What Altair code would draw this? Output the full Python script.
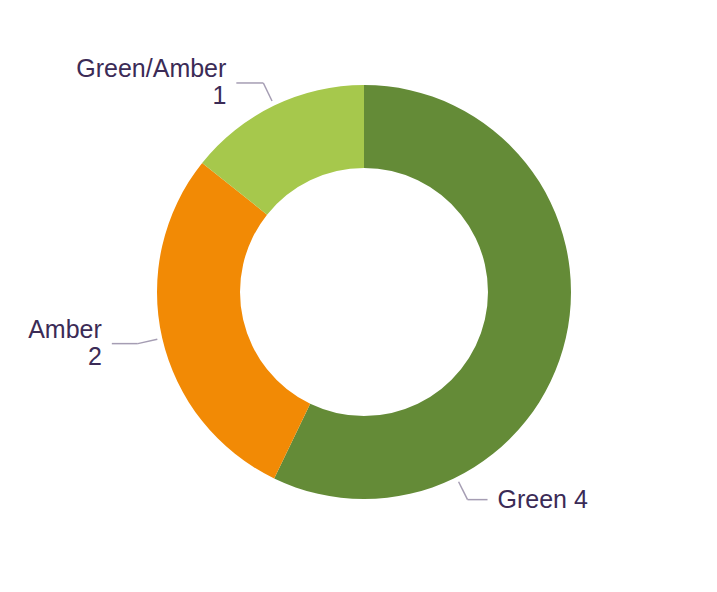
import math
import altair as alt
import pandas as pd

# ---- data ----
categories = ["Green", "Amber", "Green/Amber"]
values = [4, 2, 1]
colors = ["#648B37", "#F28A05", "#A6C84C"]
label_sep = [" ", "\n", "\n"]

# ---- layout ----
W, H = 701, 576
CX, CY = 356, 284
R_OUT, R_IN = 207, 124
R_LEAD0, R_LEAD1 = 212, 232
label_angle_override = {"Green": 153.5}
hlen = {"Green": 20, "Amber": 26, "Green/Amber": 27}
TEXT_GAP = 10
FONT_SIZE = 25
LINE_H = 27
TEXT_COLOR = "#3B2B56"
LEAD_COLOR = "#A59DB3"
FONT = "Liberation Sans"

total = sum(values)
df = pd.DataFrame({"category": categories, "value": values, "order": list(range(len(values)))})

seg_rows, txt_rows = [], []
cum = 0
for cat, v, sep in zip(categories, values, label_sep):
    mid = (cum + v / 2) / total * 360
    cum += v
    a = math.radians(label_angle_override.get(cat, mid))
    x0, y0 = CX + R_LEAD0 * math.sin(a), CY - R_LEAD0 * math.cos(a)
    x1, y1 = CX + R_LEAD1 * math.sin(a), CY - R_LEAD1 * math.cos(a)
    right = math.sin(a) > 0
    s = 1 if right else -1
    x2, y2 = x1 + s * hlen[cat], y1
    seg_rows.append({"x": x0, "y": y0, "x2": x1, "y2": y1})
    seg_rows.append({"x": x1, "y": y1, "x2": x2, "y2": y2})
    label = f"{cat}{sep}{v}"
    nlines = label.count("\n") + 1
    txt_rows.append({"x": x2 + s * TEXT_GAP, "y": y2 - (nlines - 1) * LINE_H / 2, "label": label,
                     "align": "left" if right else "right"})

seg_df = pd.DataFrame(seg_rows)
txt_df = pd.DataFrame(txt_rows)

xs = alt.Scale(domain=[0, W], nice=False, zero=False)
ys = alt.Scale(domain=[0, H], nice=False, zero=False, reverse=True)

arc = alt.Chart(df).mark_arc(innerRadius=R_IN, outerRadius=R_OUT).encode(
    theta=alt.Theta("value:Q", stack=True),
    order=alt.Order("order:Q"),
    color=alt.Color("category:N", scale=alt.Scale(domain=categories, range=colors), legend=None),
    x=alt.value(CX),
    y=alt.value(CY),
)

leads = alt.Chart(seg_df).mark_rule(color=LEAD_COLOR, strokeWidth=1.5).encode(
    x=alt.X("x:Q", scale=xs, axis=None),
    y=alt.Y("y:Q", scale=ys, axis=None),
    x2="x2:Q",
    y2="y2:Q",
)

def text_layer(align):
    return alt.Chart(txt_df[txt_df["align"] == align]).mark_text(
        align=align, baseline="middle", font=FONT, fontSize=FONT_SIZE, lineHeight=LINE_H,
        color=TEXT_COLOR, lineBreak="\n"
    ).encode(
        x=alt.X("x:Q", scale=xs, axis=None),
        y=alt.Y("y:Q", scale=ys, axis=None),
        text="label:N",
    )

chart = alt.layer(arc, leads, text_layer("right"), text_layer("left")).properties(
    width=W, height=H, padding=0, autosize=alt.AutoSizeParams(type="none")
).configure_view(strokeWidth=0).resolve_scale(x="shared", y="shared")

chart.save("out.html", embed_options={"renderer": "svg", "actions": False})
